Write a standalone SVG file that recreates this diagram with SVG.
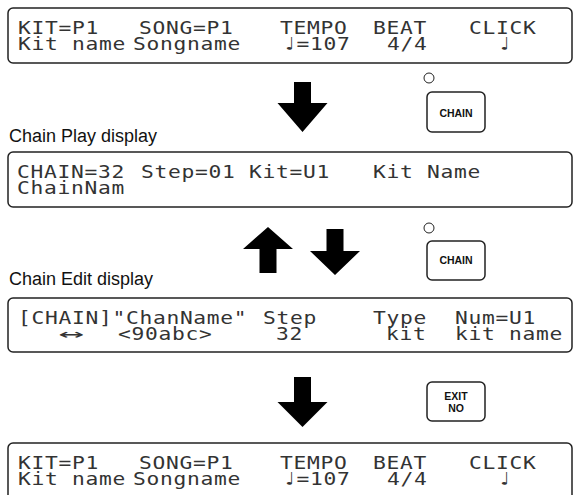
<svg xmlns="http://www.w3.org/2000/svg" width="574" height="495" viewBox="0 0 574 495">
<style>
.box{fill:#fff;stroke:#222;stroke-width:1.5}
.lcd{font-family:"DejaVu Sans Mono","Liberation Mono",monospace;font-size:18.5px;letter-spacing:0.6px;fill:#333}
.lbl{font-family:"Liberation Sans",Arial,sans-serif;font-size:18px;fill:#111}
.btn{fill:#fff;stroke:#222;stroke-width:1.5}
.btxt{font-family:"Liberation Sans",Arial,sans-serif;font-size:10.5px;font-weight:bold;fill:#111;text-anchor:middle}
.led{fill:#fff;stroke:#222;stroke-width:1}
.arrow{fill:#000}
</style>
<rect width="574" height="495" fill="#fff"/>

<g id="display-main-top">
<rect class="box" x="8" y="8" width="564" height="55" rx="5"/>
<text class="lcd" transform="matrix(1.15 0 0 1 18 34)">KIT=P1</text>
<text class="lcd" transform="matrix(1.15 0 0 1 139 34)">SONG=P1</text>
<text class="lcd" transform="matrix(1.15 0 0 1 280 34)">TEMPO</text>
<text class="lcd" transform="matrix(1.15 0 0 1 373 34)">BEAT</text>
<text class="lcd" transform="matrix(1.15 0 0 1 469 34)">CLICK</text>
<text class="lcd" transform="matrix(1.15 0 0 1 18 50)">Kit name</text>
<text class="lcd" transform="matrix(1.15 0 0 1 133 50)">Songname</text>
<text class="lcd" transform="matrix(1.15 0 0 1 283 50)">♩=107</text>
<text class="lcd" transform="matrix(1.15 0 0 1 387 50)">4/4</text>
<text class="lcd" transform="matrix(1.15 0 0 1 498 50)">♩</text>
</g>

<g id="button-chain-1">
<circle class="led" cx="429" cy="78" r="5"/>
<rect class="btn" x="427" y="92" width="58" height="40" rx="5"/>
<text class="btxt" x="456" y="117">CHAIN</text>
</g>

<g id="label-chain-play">
<text class="lbl" x="9" y="142">Chain Play display</text>
</g>

<g id="display-chain-play">
<rect class="box" x="8" y="152" width="564" height="55" rx="5"/>
<text class="lcd" transform="matrix(1.15 0 0 1 17 178)">CHAIN=32</text>
<text class="lcd" transform="matrix(1.15 0 0 1 141 178)">Step=01</text>
<text class="lcd" transform="matrix(1.15 0 0 1 249 178)">Kit=U1</text>
<text class="lcd" transform="matrix(1.15 0 0 1 373 178)">Kit Name</text>
<text class="lcd" transform="matrix(1.15 0 0 1 17 194)">ChainNam</text>
</g>

<g id="button-chain-2">
<circle class="led" cx="429" cy="228" r="5"/>
<rect class="btn" x="427" y="241" width="58" height="39" rx="5"/>
<text class="btxt" x="456" y="264">CHAIN</text>
</g>

<g id="label-chain-edit">
<text class="lbl" x="9" y="285">Chain Edit display</text>
</g>

<g id="display-chain-edit">
<rect class="box" x="8" y="298" width="564" height="54" rx="5"/>
<text class="lcd" transform="matrix(1.15 0 0 1 18 324)">[CHAIN]"ChanName"</text>
<text class="lcd" transform="matrix(1.15 0 0 1 263 324)">Step</text>
<text class="lcd" transform="matrix(1.15 0 0 1 373 324)">Type</text>
<text class="lcd" transform="matrix(1.15 0 0 1 455 324)">Num=U1</text>
<text class="lcd" transform="matrix(2.3 0 0 1 58 340)">↔</text>
<text class="lcd" transform="matrix(1.15 0 0 1 118 340)">&lt;90abc&gt;</text>
<text class="lcd" transform="matrix(1.15 0 0 1 276 340)">32</text>
<text class="lcd" transform="matrix(1.15 0 0 1 386 340)">kit</text>
<text class="lcd" transform="matrix(1.15 0 0 1 455 340)">kit name</text>
</g>

<g id="button-exit-no">
<rect class="btn" x="427" y="382" width="58" height="39" rx="5"/>
<text class="btxt" x="456" y="400">EXIT</text>
<text class="btxt" x="456" y="412">NO</text>
</g>

<g id="display-main-bottom">
<rect class="box" x="8" y="443" width="564" height="60" rx="5"/>
<text class="lcd" transform="matrix(1.15 0 0 1 18 469)">KIT=P1</text>
<text class="lcd" transform="matrix(1.15 0 0 1 139 469)">SONG=P1</text>
<text class="lcd" transform="matrix(1.15 0 0 1 280 469)">TEMPO</text>
<text class="lcd" transform="matrix(1.15 0 0 1 373 469)">BEAT</text>
<text class="lcd" transform="matrix(1.15 0 0 1 469 469)">CLICK</text>
<text class="lcd" transform="matrix(1.15 0 0 1 18 485)">Kit name</text>
<text class="lcd" transform="matrix(1.15 0 0 1 133 485)">Songname</text>
<text class="lcd" transform="matrix(1.15 0 0 1 283 485)">♩=107</text>
<text class="lcd" transform="matrix(1.15 0 0 1 387 485)">4/4</text>
<text class="lcd" transform="matrix(1.15 0 0 1 498 485)">♩</text>
</g>

<g id="connectors">
<polygon class="arrow" points="294,82 311,82 311,103 327.5,103 302.5,132 277.5,103 294,103"/>
<polygon class="arrow" points="268,227 293,249 276.5,249 276.5,273 259.5,273 259.5,249 243,249"/>
<polygon class="arrow" points="326.5,229 343.5,229 343.5,251 360,251 335,275 310,251 326.5,251"/>
<polygon class="arrow" points="294,377 311,377 311,402 327.5,402 302.5,427 277.5,402 294,402"/>
</g>
</svg>
